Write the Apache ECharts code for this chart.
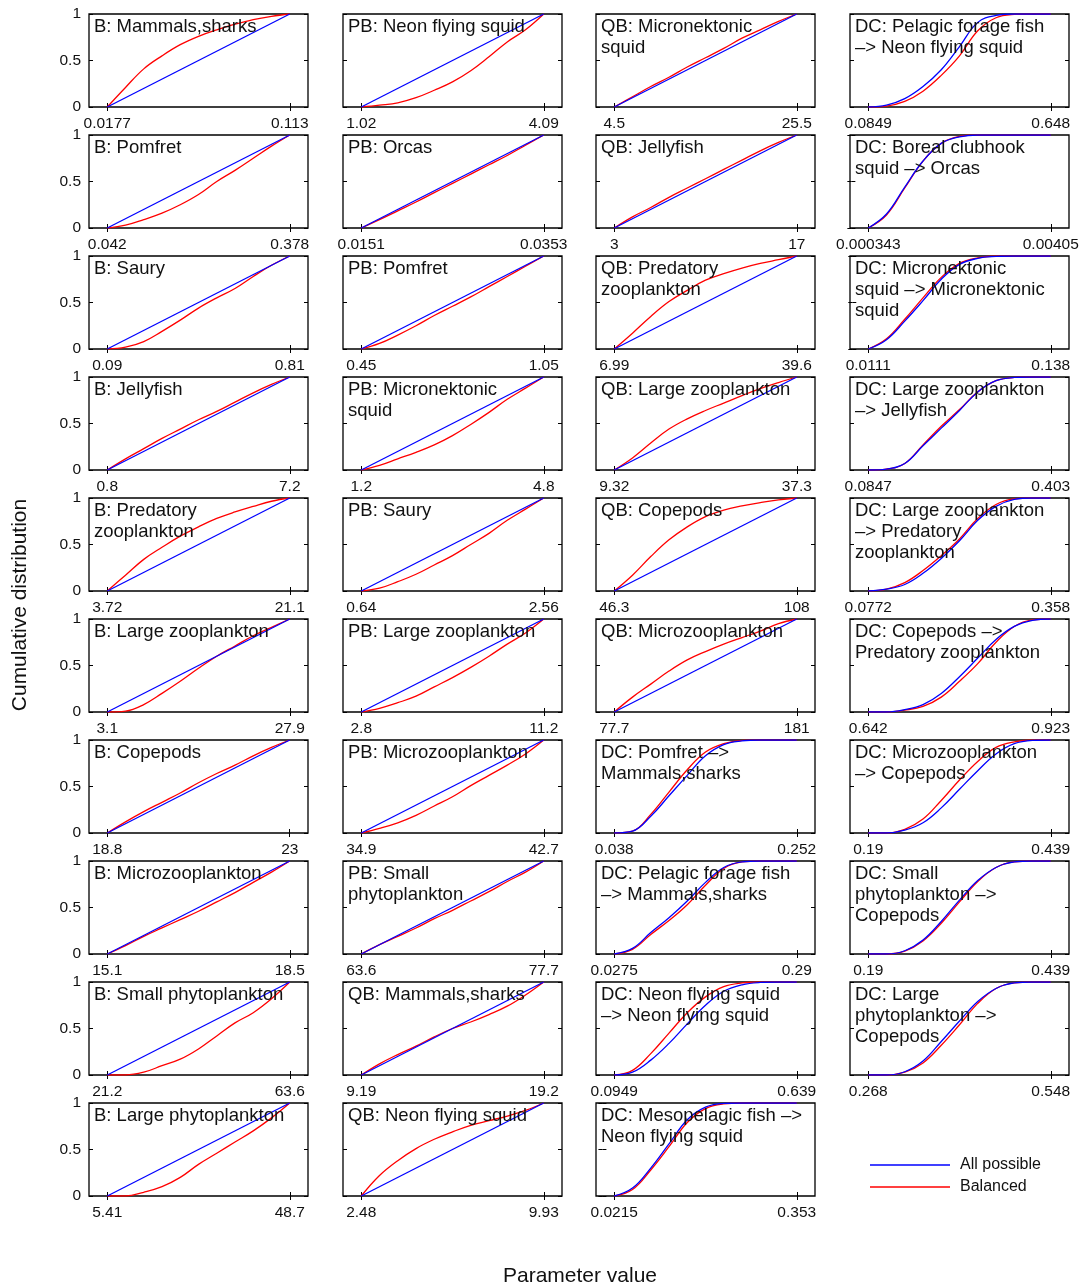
<!DOCTYPE html>
<html>
<head>
<meta charset="utf-8">
<script src="https://cdn.jsdelivr.net/npm/echarts@6/dist/echarts.min.js"></script>
<style>
  html, body { margin: 0; padding: 0; background: #fff; }
  #chart { width: 1086px; height: 1288px; }
</style>
</head>
<body>
<div id="chart"></div>
<script>
// panel titles, column by column (10 per column)
var panelTitles = [
    'B: Mammals,sharks', 'B: Pomfret', 'B: Saury', 'B: Jellyfish', 'B: Predatory\nzooplankton',
    'B: Large zooplankton', 'B: Copepods', 'B: Microzooplankton', 'B: Small phytoplankton', 'B: Large phytoplankton',
    'PB: Neon flying squid', 'PB: Orcas', 'PB: Pomfret', 'PB: Micronektonic\nsquid', 'PB: Saury',
    'PB: Large zooplankton', 'PB: Microzooplankton', 'PB: Small\nphytoplankton', 'QB: Mammals,sharks', 'QB: Neon flying squid',
    'QB: Micronektonic\nsquid', 'QB: Jellyfish', 'QB: Predatory\nzooplankton', 'QB: Large zooplankton', 'QB: Copepods',
    'QB: Microzooplankton', 'DC: Pomfret \u2013>\nMammals,sharks', 'DC: Pelagic forage fish\n\u2013> Mammals,sharks',
    'DC: Neon flying squid\n\u2013> Neon flying squid', 'DC: Mesopelagic fish \u2013>\nNeon flying squid',
    'DC: Pelagic forage fish\n\u2013> Neon flying squid', 'DC: Boreal clubhook\nsquid \u2013> Orcas',
    'DC: Micronektonic\nsquid \u2013> Micronektonic\nsquid', 'DC: Large zooplankton\n\u2013> Jellyfish',
    'DC: Large zooplankton\n\u2013> Predatory\nzooplankton', 'DC: Copepods \u2013>\nPredatory zooplankton',
    'DC: Microzooplankton\n\u2013> Copepods', 'DC: Small\nphytoplankton \u2013>\nCopepods',
    'DC: Large\nphytoplankton \u2013>\nCopepods'
];

// parameter range (tick labels at both ends)
var xLow = [0.0177, 0.042, 0.09, 0.8, 3.72, 3.1, 18.8, 15.1, 21.2, 5.41,
    1.02, 0.0151, 0.45, 1.2, 0.64, 2.8, 34.9, 63.6, 9.19, 2.48,
    4.5, 3, 6.99, 9.32, 46.3, 77.7, 0.038, 0.0275, 0.0949, 0.0215,
    0.0849, 0.000343, 0.0111, 0.0847, 0.0772, 0.642, 0.19, 0.19, 0.268];
var xHigh = [0.113, 0.378, 0.81, 7.2, 21.1, 27.9, 23, 18.5, 63.6, 48.7,
    4.09, 0.0353, 1.05, 4.8, 2.56, 11.2, 42.7, 77.7, 19.2, 9.93,
    25.5, 17, 39.6, 37.3, 108, 181, 0.252, 0.29, 0.639, 0.353,
    0.648, 0.00405, 0.138, 0.403, 0.358, 0.923, 0.439, 0.439, 0.548];

// sample positions, as fraction of each panel's range
var fracs = [0, 0.1, 0.2, 0.3, 0.4, 0.5, 0.6, 0.7, 0.8, 0.9, 1];
var endsOnly = [0, 1];

// balanced cumulative distribution (red)
var balanced = [
    [0, .21, .41, .55, .67, .76, .83, .89, .94, .975, 1],
    [0, .03, .09, .16, .25, .36, .50, .62, .75, .88, 1],
    [0, .02, .08, .19, .31, .44, .55, .65, .78, .90, 1],
    [0, .12, .23, .34, .44, .54, .63, .73, .83, .92, 1],
    [0, .17, .34, .47, .59, .69, .78, .85, .91, .965, 1],
    [0, .01, .08, .20, .33, .47, .60, .71, .82, .91, 1],
    [0, .12, .23, .33, .43, .54, .64, .73, .83, .92, 1],
    [0, .09, .19, .28, .37, .46, .56, .66, .77, .88, 1],
    [0, 0, .03, .10, .17, .28, .42, .56, .67, .82, 1],
    [0, 0, .04, .10, .20, .34, .46, .58, .70, .84, 1],
    [0, .02, .045, .10, .18, .27, .39, .54, .70, .83, 1],
    [0, .09, .185, .28, .38, .48, .58, .68, .78, .89, 1],
    [0, .06, .15, .25, .36, .46, .56, .67, .78, .89, 1],
    [0, .05, .12, .19, .27, .37, .49, .62, .76, .88, 1],
    [0, .03, .10, .18, .28, .38, .50, .62, .76, .88, 1],
    [0, .04, .10, .17, .27, .37, .48, .60, .73, .85, 1],
    [0, .05, .11, .19, .29, .39, .51, .62, .73, .85, 1],
    [0, .10, .19, .28, .38, .47, .57, .67, .78, .88, 1],
    [0, .12, .22, .31, .41, .50, .57, .65, .74, .86, 1],
    [0, .22, .38, .51, .61, .69, .76, .81, .86, .92, 1],
    [0, .11, .22, .32, .43, .53, .63, .74, .83, .92, 1],
    [0, .12, .22, .33, .43, .53, .63, .73, .83, .92, 1],
    [0, .17, .35, .51, .63, .74, .81, .87, .92, .96, 1],
    [0, .13, .29, .44, .55, .64, .72, .80, .875, .94, 1],
    [0, .17, .37, .55, .69, .80, .87, .915, .95, .98, 1],
    [0, .16, .30, .44, .56, .65, .73, .80, .87, .95, 1],
    [0, .02, .20, .44, .68, .87, .96, .995, 1, 1, 1],
    [0, .05, .21, .36, .53, .74, .92, .99, 1, 1, 1],
    [0, .05, .23, .45, .67, .84, .95, .99, 1, 1, 1],
    [0, .07, .28, .53, .79, .94, .99, 1, 1, 1, 1],
    [0, .01, .06, .17, .34, .55, .82, .96, .995, 1, 1],
    [0, .14, .43, .72, .91, .985, 1, 1, 1, 1, 1],
    [0, .11, .32, .55, .77, .92, .98, 1, 1, 1, 1],
    [0, .01, .07, .27, .47, .65, .84, .96, .995, 1, 1],
    [0, .02, .09, .22, .38, .56, .78, .93, .99, 1, 1],
    [0, 0, .02, .06, .16, .33, .52, .75, .92, .99, 1],
    [0, 0, .04, .15, .35, .57, .77, .92, .98, 1, 1],
    [0, 0, .03, .14, .33, .56, .78, .93, .99, 1, 1],
    [0, 0, .03, .13, .32, .54, .77, .93, .99, 1, 1]
];

// all possible cumulative distribution (blue); two values = straight line end to end
var allPossible = [
    [0, 1], [0, 1], [0, 1], [0, 1], [0, 1], [0, 1], [0, 1], [0, 1], [0, 1], [0, 1],
    [0, 1], [0, 1], [0, 1], [0, 1], [0, 1], [0, 1], [0, 1], [0, 1], [0, 1], [0, 1],
    [0, 1], [0, 1], [0, 1], [0, 1], [0, 1], [0, 1],
    [0, .02, .18, .40, .62, .83, .95, .99, 1, 1, 1],
    [0, .06, .23, .39, .57, .77, .93, .99, 1, 1, 1],
    [0, .03, .16, .34, .55, .75, .90, .97, .995, 1, 1],
    [0, .085, .30, .56, .82, .955, .995, 1, 1, 1, 1],
    [0, .02, .09, .22, .40, .65, .91, .985, 1, 1, 1],
    [0, .15, .44, .72, .91, .98, 1, 1, 1, 1, 1],
    [0, .10, .30, .52, .75, .91, .975, .995, 1, 1, 1],
    [0, .01, .07, .26, .45, .64, .84, .96, .995, 1, 1],
    [0, .02, .07, .19, .35, .54, .76, .91, .985, 1, 1],
    [0, 0, .025, .08, .20, .38, .58, .78, .92, .985, 1],
    [0, 0, .03, .11, .27, .47, .67, .85, .96, .995, 1],
    [0, 0, .035, .15, .35, .58, .79, .93, .99, 1, 1],
    [0, 0, .035, .15, .36, .58, .79, .93, .99, 1, 1]
];

var font = "'Liberation Sans', Arial, sans-serif";
var colLeft = [89, 343, 596, 850];
var rowTop = 14, rowStep = 121, boxW = 219, boxH = 93;

var option = {
    animation: false,
    backgroundColor: '#fff',
    textStyle: { fontFamily: font },
    title: [],
    grid: [],
    xAxis: [],
    yAxis: [],
    series: [],
    legend: {
        data: ['All possible', 'Balanced'],
        orient: 'vertical',
        left: 870,
        top: 1157,
        icon: 'rect',
        itemWidth: 80,
        itemHeight: 1.5,
        itemGap: 6,
        padding: 0,
        textStyle: { fontSize: 16, color: '#111', fontFamily: font, padding: [0, 0, 0, 5] }
    },
    graphic: [
        {
            type: 'text', x: 20, y: 605, rotation: Math.PI / 2,
            style: { text: 'Cumulative distribution', font: '21px ' + font, fill: '#111', textAlign: 'center', textVerticalAlign: 'middle' }
        },
        {
            type: 'text', x: 580, y: 1276,
            style: { text: 'Parameter value', font: '21px ' + font, fill: '#111', textAlign: 'center', textVerticalAlign: 'middle' }
        }
    ]
};

function toPoints(lo, hi, ys) {
    var fs = ys.length === 2 ? endsOnly : fracs;
    return ys.map(function (y, i) {
        return [lo + fs[i] * (hi - lo), y];
    });
}

panelTitles.forEach(function (t, p) {
    var col = Math.floor(p / 10), row = p % 10;
    var lo = xLow[p], hi = xHigh[p], pad = 0.1 * (hi - lo);
    var top = rowTop + row * rowStep;

    option.grid.push({
        left: colLeft[col], top: top, width: boxW, height: boxH,
        show: true, borderColor: '#000', borderWidth: 1.3, backgroundColor: 'transparent'
    });
    option.title.push({
        text: t, left: colLeft[col] + 5, top: top + 2, padding: 0,
        textStyle: { fontSize: 18.5, fontWeight: 'normal', lineHeight: 21, color: '#111', fontFamily: font }
    });

    var tick = { show: true, inside: true, length: 4, customValues: [lo, hi], lineStyle: { color: '#000', width: 1 } };
    option.xAxis.push({
        gridIndex: p, type: 'value', min: lo - pad, max: hi + pad,
        axisLine: { show: false }, splitLine: { show: false }, axisTick: tick,
        axisLabel: {
            customValues: [lo, hi], margin: 9, fontSize: 15.5, color: '#111',
            formatter: function (v) { return String(v); }
        }
    });
    option.xAxis.push({
        gridIndex: p, type: 'value', position: 'top', min: lo - pad, max: hi + pad,
        axisLine: { show: false }, splitLine: { show: false }, axisTick: tick,
        axisLabel: { show: false }
    });
    var yTick = { show: true, inside: true, length: 4, lineStyle: { color: '#000', width: 1 } };
    option.yAxis.push({
        gridIndex: p, type: 'value', min: 0, max: 1, interval: 0.5,
        axisLine: { show: false }, splitLine: { show: false }, axisTick: yTick,
        axisLabel: { show: col === 0, margin: 8, fontSize: 15.5, color: '#111' }
    });
    option.yAxis.push({
        gridIndex: p, type: 'value', position: 'right', min: 0, max: 1, interval: 0.5,
        axisLine: { show: false }, splitLine: { show: false }, axisTick: yTick,
        axisLabel: { show: false }
    });

    option.series.push({
        name: 'Balanced', type: 'line', xAxisIndex: 2 * p, yAxisIndex: 2 * p,
        data: toPoints(lo, hi, balanced[p]), symbol: 'none', smooth: 0.4,
        lineStyle: { color: '#ff0000', width: 1.3 }, itemStyle: { color: '#ff0000' }
    });
    option.series.push({
        name: 'All possible', type: 'line', xAxisIndex: 2 * p, yAxisIndex: 2 * p,
        data: toPoints(lo, hi, allPossible[p]), symbol: 'none', smooth: 0.4,
        lineStyle: { color: '#0000ff', width: 1.3 }, itemStyle: { color: '#0000ff' }
    });
});

var chart = echarts.init(document.getElementById('chart'));
chart.setOption(option);
</script>
</body>
</html>
